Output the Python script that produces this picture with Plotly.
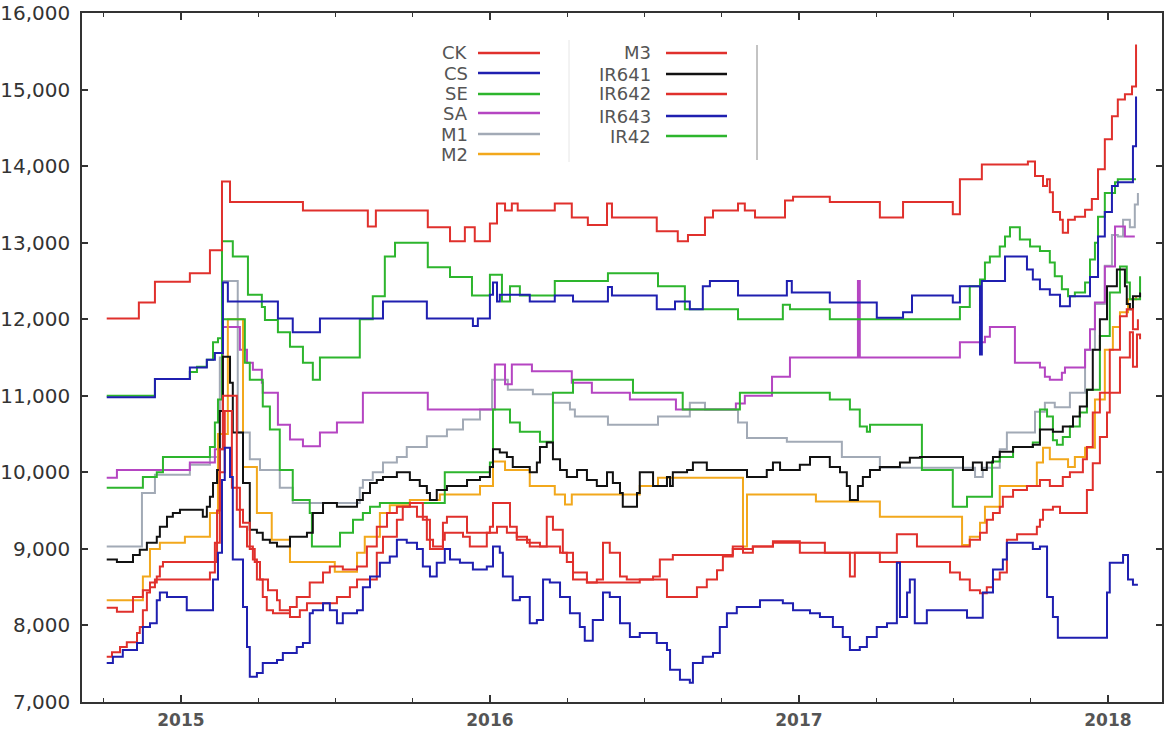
import plotly.graph_objects as go

# ---------------- data (decimal year, value) ----------------
CK = [(2014.760,12010),(2014.864,12220),(2014.916,12490),(2015.029,12600),(2015.094,12900),(2015.133,13800),
      (2015.159,13530),(2015.395,13420),(2015.605,13210),(2015.631,13420),(2015.799,13200),(2015.871,13020),
      (2015.919,13200),(2015.951,13020),(2016.000,13250),(2016.023,13510),(2016.049,13420),(2016.071,13510),
      (2016.090,13420),(2016.210,13510),(2016.265,13330),(2016.317,13230),(2016.379,13510),(2016.395,13330),
      (2016.540,13150),(2016.608,13020),(2016.641,13100),(2016.696,13330),(2016.722,13420),(2016.803,13510),
      (2016.825,13420),(2016.858,13330),(2016.955,13550),(2016.981,13600),(2017.100,13530),(2017.262,13330),
      (2017.337,13530),(2017.498,13370),(2017.521,13830),(2017.592,14020),(2017.741,14060),(2017.764,13870),
      (2017.790,13740),(2017.803,13830),(2017.812,13660),(2017.822,13400),(2017.845,13300),(2017.854,13130),
      (2017.871,13300),(2017.893,13340),(2017.926,13430),(2017.948,13570),(2017.968,13960),(2017.990,14350),
      (2018.013,14650),(2018.032,14870),(2018.055,14940),(2018.078,15040),(2018.091,15590)]

CS = [(2014.760,10980),(2014.916,11220),(2015.029,11370),(2015.084,11470),(2015.110,11560),(2015.136,12480),
      (2015.152,12230),(2015.314,12010),(2015.362,11830),(2015.450,12010),(2015.654,12230),(2015.796,12010),
      (2015.945,11910),(2015.961,12010),(2016.000,12320),(2016.010,12480),(2016.023,12230),(2016.032,12320),
      (2016.129,12230),(2016.210,12310),(2016.269,12230),(2016.382,12420),(2016.395,12310),(2016.540,12130),
      (2016.599,12230),(2016.647,12130),(2016.689,12430),(2016.712,12500),(2016.803,12310),(2016.961,12500),
      (2016.977,12350),(2017.100,12220),(2017.252,12020),(2017.337,12090),(2017.366,12310),(2017.498,12220),
      (2017.521,12430),(2017.586,11540),(2017.592,12500),(2017.667,12820),(2017.738,12650),(2017.757,12520),
      (2017.780,12390),(2017.812,12320),(2017.845,12170),(2017.877,12300),(2017.942,12550),(2017.968,13080),
      (2017.990,13400),(2018.013,13740),(2018.032,13790),(2018.081,14260),(2018.091,14910)]

SE = [(2014.760,11000),(2014.916,11220),(2015.029,11310),(2015.052,11380),(2015.084,11470),(2015.104,11700),
      (2015.120,11750),(2015.133,13020),(2015.168,12820),(2015.217,12320),(2015.262,12160),(2015.272,11990),
      (2015.314,11830),(2015.353,11640),(2015.395,11430),(2015.427,11210),(2015.450,11500),(2015.579,12000),
      (2015.621,12300),(2015.660,12820),(2015.693,13000),(2015.799,12680),(2015.871,12550),(2015.942,12310),
      (2016.000,12580),(2016.039,12230),(2016.065,12430),(2016.097,12310),(2016.210,12500),(2016.382,12600),
      (2016.544,12430),(2016.631,12130),(2016.803,12000),(2016.948,12190),(2016.971,12130),(2017.100,12000),
      (2017.521,12160),(2017.553,12430),(2017.586,12520),(2017.602,12740),(2017.618,12820),(2017.650,12950),
      (2017.667,13080),(2017.683,13200),(2017.715,13040),(2017.748,12950),(2017.780,12890),(2017.812,12740),
      (2017.828,12560),(2017.851,12390),(2017.871,12300),(2017.893,12350),(2017.926,12480),(2017.942,12780),
      (2017.958,13000),(2017.968,13340),(2017.990,13650),(2018.023,13790),(2018.032,13830),(2018.091,13830)]

SA = [(2014.760,9930),(2014.793,10030),(2014.877,10030),(2015.029,10130),(2015.110,10300),(2015.136,11900),
      (2015.191,11600),(2015.214,11430),(2015.233,11340),(2015.262,11170),(2015.265,11040),(2015.314,10620),
      (2015.353,10430),(2015.395,10340),(2015.450,10520),(2015.505,10650),(2015.589,11040),(2015.799,10820),
      (2016.016,11410),(2016.049,11150),(2016.071,11410),(2016.136,11320),(2016.265,11170),(2016.330,11040),
      (2016.453,10950),(2016.602,10820),(2016.796,10900),(2016.825,11000),(2016.913,11250),(2016.971,11500),
      (2017.191,12500),(2017.197,11500),(2017.521,11700),(2017.602,11770),(2017.618,11900),(2017.699,11430),
      (2017.780,11370),(2017.796,11250),(2017.812,11210),(2017.851,11300),(2017.861,11370),(2017.926,11600),
      (2017.942,11870),(2017.958,12220),(2017.990,12690),(2018.023,13210),(2018.055,13080),(2018.087,13080)]

M1 = [(2014.760,9030),(2014.874,9730),(2014.916,9970),(2015.029,10100),(2015.094,10200),(2015.126,11500),
      (2015.136,12500),(2015.184,10520),(2015.223,10170),(2015.256,10030),(2015.320,9800),(2015.362,9600),
      (2015.579,9800),(2015.589,9900),(2015.621,10000),(2015.654,10130),(2015.699,10200),(2015.731,10330),
      (2015.796,10470),(2015.861,10560),(2015.913,10690),(2015.968,10820),(2016.007,11210),(2016.058,11080),
      (2016.139,11020),(2016.204,10910),(2016.259,10820),(2016.275,10730),(2016.382,10620),(2016.544,10730),
      (2016.647,10910),(2016.696,10820),(2016.803,10650),(2016.832,10450),(2016.961,10400),(2017.139,10200),
      (2017.262,10060),(2017.570,9940),(2017.595,10060),(2017.650,10300),(2017.673,10520),(2017.764,10790),
      (2017.796,10910),(2017.828,10850),(2017.877,11040),(2017.926,11600),(2017.958,12200),(2017.990,12700),
      (2018.013,13100),(2018.032,13080),(2018.049,13300),(2018.071,13200),(2018.087,13500),(2018.097,13650)]

M2 = [(2014.760,8330),(2014.877,8640),(2014.900,9000),(2014.932,9080),(2015.013,9160),(2015.094,9470),
      (2015.120,10500),(2015.152,12000),(2015.201,10070),(2015.246,9470),(2015.294,9120),(2015.353,8830),
      (2015.498,8700),(2015.570,8950),(2015.595,9160),(2015.644,9470),(2015.676,9570),(2015.741,9640),
      (2015.838,9710),(2015.968,9820),(2016.010,10140),(2016.049,10030),(2016.129,9820),(2016.210,9710),
      (2016.243,9580),(2016.265,9710),(2016.485,9820),(2016.544,9930),(2016.819,9030),(2016.832,9710),
      (2017.055,9620),(2017.262,9420),(2017.528,9050),(2017.553,9160),(2017.586,9340),(2017.602,9550),
      (2017.650,9820),(2017.770,10130),(2017.790,10320),(2017.812,10170),(2017.871,10070),(2017.893,10200),
      (2017.926,10320),(2017.958,10950),(2017.990,11600),(2018.016,11900),(2018.039,12090),(2018.065,12260),
      (2018.091,12300)]

M3 = [(2014.760,8230),(2014.793,8180),(2014.845,8370),(2014.877,8460),(2014.900,8560),(2014.922,8640),
      (2014.932,8770),(2014.942,8830),(2015.117,9500),(2015.126,10300),(2015.136,11000),(2015.181,9510),
      (2015.201,9340),(2015.223,9000),(2015.239,8830),(2015.256,8600),(2015.282,8460),(2015.311,8330),
      (2015.320,8200),(2015.353,8110),(2015.385,8200),(2015.408,8290),(2015.505,8370),(2015.547,8500),
      (2015.570,8600),(2015.634,8950),(2015.654,9160),(2015.699,9380),(2015.718,9550),(2015.764,9420),
      (2015.796,9120),(2015.816,9030),(2015.848,9340),(2015.861,9420),(2015.926,9210),(2016.000,9290),
      (2016.010,9600),(2016.065,9290),(2016.087,9160),(2016.120,9080),(2016.162,9030),(2016.184,9420),
      (2016.204,9250),(2016.236,8950),(2016.269,8690),(2016.314,8560),(2016.346,8600),(2016.366,9080),
      (2016.388,8950),(2016.421,8640),(2016.443,8600),(2016.573,8370),(2016.670,8500),(2016.702,8600),
      (2016.735,8720),(2016.754,8900),(2016.786,9000),(2016.851,9030),(2016.916,9080),(2017.084,8950),
      (2017.165,8640),(2017.181,8950),(2017.317,9190),(2017.382,9030),(2017.553,9120),(2017.586,9210),
      (2017.608,9380),(2017.628,9470),(2017.650,9550),(2017.660,9680),(2017.693,9770),(2017.738,9820),
      (2017.780,9900),(2017.812,9820),(2017.854,9940),(2017.877,10000),(2017.919,10170),(2017.932,10330),
      (2017.951,10780),(2017.974,11040),(2018.006,11600),(2018.039,12040),(2018.061,12130),(2018.081,11870),
      (2018.097,12000)]

IR641 = [(2014.760,8860),(2014.793,8830),(2014.845,8920),(2014.867,8990),(2014.890,9080),(2014.922,9160),
         (2014.932,9290),(2014.955,9420),(2014.974,9470),(2014.997,9510),(2015.071,9420),(2015.084,9550),
         (2015.094,9680),(2015.104,9860),(2015.117,10030),(2015.126,10800),(2015.136,11510),(2015.159,11170),
         (2015.168,10520),(2015.201,9860),(2015.223,9250),(2015.246,9210),(2015.265,9120),(2015.288,9080),
         (2015.311,9030),(2015.353,9160),(2015.408,9210),(2015.427,9470),(2015.460,9600),(2015.505,9550),
         (2015.570,9640),(2015.589,9730),(2015.612,9860),(2015.634,9900),(2015.654,9940),(2015.699,10000),
         (2015.741,9900),(2015.773,9820),(2015.796,9730),(2015.806,9640),(2015.828,9770),(2015.861,9820),
         (2015.926,9900),(2015.968,9940),(2016.000,10070),(2016.010,10300),(2016.032,10260),(2016.055,10200),
         (2016.074,10070),(2016.129,10000),(2016.152,10130),(2016.162,10330),(2016.184,10390),(2016.204,10170),
         (2016.227,10030),(2016.249,9940),(2016.282,10030),(2016.314,9900),(2016.346,9820),(2016.379,10000),
         (2016.398,9860),(2016.421,9730),(2016.430,9550),(2016.476,9730),(2016.485,10000),(2016.528,9820),
         (2016.573,9940),(2016.583,9820),(2016.592,10000),(2016.638,10030),(2016.657,10130),(2016.702,10030),
         (2016.832,9940),(2016.896,10030),(2016.916,10130),(2016.939,10030),(2017.003,10100),(2017.036,10200),
         (2017.100,10070),(2017.133,10000),(2017.155,9820),(2017.165,9640),(2017.191,9820),(2017.207,9940),
         (2017.230,10030),(2017.262,10070),(2017.327,10130),(2017.359,10190),(2017.392,10200),(2017.531,10030),
         (2017.563,10130),(2017.592,10030),(2017.608,10130),(2017.628,10200),(2017.650,10270),(2017.693,10330),
         (2017.757,10360),(2017.780,10560),(2017.822,10530),(2017.854,10600),(2017.887,10730),(2017.909,10860),
         (2017.932,11080),(2017.951,11600),(2017.974,12000),(2017.997,12430),(2018.029,12650),(2018.055,12430),
         (2018.061,12200),(2018.071,12130),(2018.081,12300),(2018.104,12350)]

IR642 = [(2014.760,7590),(2014.777,7650),(2014.803,7720),(2014.825,7780),(2014.858,7900),(2014.867,7980),
         (2014.877,8200),(2014.890,8430),(2014.900,8500),(2014.916,8600),(2015.094,8690),(2015.110,9080),
         (2015.126,10000),(2015.142,10800),(2015.165,9800),(2015.191,9290),(2015.214,9030),(2015.233,8860),
         (2015.246,8600),(2015.265,8370),(2015.278,8200),(2015.298,8160),(2015.353,8240),(2015.375,8370),
         (2015.417,8560),(2015.460,8690),(2015.482,8770),(2015.524,8730),(2015.570,8770),(2015.602,9030),
         (2015.634,9290),(2015.667,9470),(2015.699,9550),(2015.741,9600),(2015.783,9380),(2015.806,9000),
         (2015.848,9120),(2015.854,9210),(2015.913,9160),(2015.935,9030),(2015.990,9210),(2016.023,9290),
         (2016.055,9210),(2016.087,9120),(2016.129,9030),(2016.227,8950),(2016.249,8830),(2016.269,8600),
         (2016.314,8560),(2016.485,8600),(2016.528,8640),(2016.550,8860),(2016.592,8920),(2016.786,9030),
         (2016.819,8950),(2016.851,9030),(2016.916,9100),(2017.003,8950),(2017.262,8830),(2017.489,8690),
         (2017.521,8600),(2017.553,8460),(2017.586,8420),(2017.608,8500),(2017.628,8600),(2017.650,8690),
         (2017.673,9120),(2017.706,9190),(2017.770,9290),(2017.780,9380),(2017.790,9510),(2017.822,9550),
         (2017.845,9470),(2017.926,9470),(2017.932,9770),(2017.951,10120),(2017.974,10460),(2017.997,10780),
         (2018.006,11040),(2018.039,11500),(2018.071,11830),(2018.081,11380),(2018.094,11800),(2018.104,11740)]

IR643 = [(2014.760,7510),(2014.780,7590),(2014.812,7680),(2014.858,7770),(2014.877,7980),(2014.900,8030),
         (2014.922,8330),(2014.932,8430),(2014.955,8370),(2015.019,8200),(2015.104,8600),(2015.120,8950),
         (2015.133,9900),(2015.142,10320),(2015.159,9940),(2015.168,8860),(2015.201,8240),(2015.214,7720),
         (2015.223,7330),(2015.246,7380),(2015.265,7510),(2015.311,7550),(2015.330,7640),(2015.375,7720),
         (2015.395,7770),(2015.417,8160),(2015.427,8200),(2015.460,8290),(2015.482,8200),(2015.505,8030),
         (2015.524,8160),(2015.570,8200),(2015.589,8500),(2015.612,8640),(2015.644,8820),(2015.676,8900),
         (2015.699,9120),(2015.731,9080),(2015.764,9000),(2015.783,8770),(2015.806,8640),(2015.828,8820),
         (2015.854,9000),(2015.871,8860),(2015.903,8820),(2015.945,8730),(2015.990,8770),(2016.010,9030),
         (2016.032,8950),(2016.042,8640),(2016.074,8330),(2016.097,8370),(2016.129,8030),(2016.152,8070),
         (2016.172,8600),(2016.194,8560),(2016.227,8370),(2016.259,8160),(2016.291,7980),(2016.307,7800),
         (2016.333,8070),(2016.366,8430),(2016.388,8370),(2016.421,8030),(2016.453,7850),(2016.485,7900),
         (2016.540,7770),(2016.573,7680),(2016.583,7420),(2016.615,7290),(2016.647,7250),(2016.657,7510),
         (2016.689,7590),(2016.722,7640),(2016.744,7980),(2016.767,8160),(2016.799,8240),(2016.874,8330),
         (2016.948,8290),(2016.981,8200),(2017.036,8160),(2017.068,8110),(2017.110,7980),(2017.142,7850),
         (2017.165,7680),(2017.197,7720),(2017.220,7850),(2017.252,7980),(2017.285,8030),(2017.317,8820),
         (2017.327,8110),(2017.350,8430),(2017.359,8600),(2017.375,8030),(2017.414,8200),(2017.544,8100),
         (2017.595,8430),(2017.628,8730),(2017.660,8860),(2017.673,9080),(2017.757,9000),(2017.780,9030),
         (2017.803,8370),(2017.822,8110),(2017.838,7840),(2017.997,8430),(2018.006,8820),(2018.049,8920),
         (2018.065,8600),(2018.081,8530),(2018.097,8530)]

IR42 = [(2014.760,9800),(2014.877,9940),(2014.922,10000),(2014.942,10200),(2015.094,10330),(2015.110,10650),
        (2015.120,10950),(2015.133,12000),(2015.207,11430),(2015.223,11210),(2015.265,10860),(2015.288,10560),
        (2015.320,10030),(2015.362,9640),(2015.417,9470),(2015.424,9030),(2015.515,9210),(2015.557,9380),
        (2015.589,9470),(2015.612,9550),(2015.644,9600),(2015.854,10000),(2016.000,10130),(2016.010,10820),
        (2016.065,10650),(2016.097,10530),(2016.162,10400),(2016.204,11040),(2016.269,11210),(2016.463,11040),
        (2016.624,10820),(2016.809,11040),(2017.100,10950),(2017.165,10820),(2017.197,10600),(2017.220,10530),
        (2017.230,10620),(2017.398,10030),(2017.498,9550),(2017.544,9680),(2017.625,10140),(2017.650,10200),
        (2017.693,10330),(2017.757,10390),(2017.780,10820),(2017.803,10730),(2017.822,10420),(2017.835,10360),
        (2017.854,10460),(2017.877,10600),(2017.909,10780),(2017.932,11080),(2017.974,11780),(2018.006,12350),
        (2018.039,12690),(2018.061,12480),(2018.071,12260),(2018.104,12560)]

NAMES_LEFT = ["CK", "CS", "SE", "SA", "M1", "M2"]
NAMES_RIGHT = ["M3", "IR641", "IR642", "IR643", "IR42"]
Y_TICKS = [7000, 8000, 9000, 10000, 11000, 12000, 13000, 14000, 15000, 16000]
X_TICKS = [2015, 2016, 2017, 2018]
X_TICK_LABELS = ["2015", "2016", "2017", "2018"]

# ---------------- styling ----------------
RED = "#e0302c"
BLUE = "#1f1fb0"
GREEN = "#2db52d"
PURPLE = "#b545c2"
GRAY = "#a2aab6"
ORANGE = "#f2a81c"
BLACK = "#111111"

series = {
    "CK": (CK, RED), "CS": (CS, BLUE), "SE": (SE, GREEN), "SA": (SA, PURPLE),
    "M1": (M1, GRAY), "M2": (M2, ORANGE), "M3": (M3, RED), "IR641": (IR641, BLACK),
    "IR642": (IR642, RED), "IR643": (IR643, BLUE), "IR42": (IR42, GREEN),
}
draw_order = ["M1", "SA", "M2", "IR42", "IR641", "M3", "IR642", "IR643", "SE", "CS", "CK"]

fig = go.Figure()
for name in draw_order:
    pts, col = series[name]
    fig.add_trace(go.Scatter(
        x=[p[0] for p in pts], y=[p[1] for p in pts], name=name,
        mode="lines", line=dict(color=col, width=2, shape="hv"), showlegend=False))

W, H = 1164, 731
L, R, T, B = 82, 2, 13, 29
PW, PH = W - L - R, H - T - B

def px(xp):
    return (xp - L) / PW

def py(yp):
    return (H - B - yp) / PH

shapes = []
annotations = []
left_rows = [53, 73, 94, 113, 134, 154]
right_rows = [53, 74, 94, 116, 136]
LEG_FONT = dict(family="DejaVu Sans", size=18, color="#555555")
for name, yrow in zip(NAMES_LEFT, left_rows):
    col = series[name][1]
    annotations.append(dict(x=px(470), y=py(yrow), xref="paper", yref="paper", text=name,
                            showarrow=False, xanchor="right", yanchor="middle", font=LEG_FONT))
    shapes.append(dict(type="line", xref="paper", yref="paper", x0=px(478), x1=px(540),
                       y0=py(yrow), y1=py(yrow), line=dict(color=col, width=2.5)))
for name, yrow in zip(NAMES_RIGHT, right_rows):
    col = series[name][1]
    annotations.append(dict(x=px(653), y=py(yrow), xref="paper", yref="paper", text=name,
                            showarrow=False, xanchor="right", yanchor="middle", font=LEG_FONT))
    shapes.append(dict(type="line", xref="paper", yref="paper", x0=px(666), x1=px(727),
                       y0=py(yrow), y1=py(yrow), line=dict(color=col, width=2.5)))
shapes.append(dict(type="line", xref="paper", yref="paper", x0=px(757), x1=px(757),
                   y0=py(45), y1=py(160), line=dict(color="#888888", width=1)))
shapes.append(dict(type="line", xref="paper", yref="paper", x0=px(569), x1=px(569),
                   y0=py(40), y1=py(162), line=dict(color="#e6e6e6", width=1)))

fig.update_layout(
    width=W, height=H, margin=dict(l=L, r=R, t=T, b=B, autoexpand=False),
    paper_bgcolor="white", plot_bgcolor="white",
    shapes=shapes, annotations=annotations, showlegend=False,
    xaxis=dict(range=[2014.68, 2018.175], tickvals=X_TICKS, ticktext=X_TICK_LABELS,
               automargin=False,
               ticks="inside", ticklen=7, tickwidth=1.5, tickcolor="#333",
               minor=dict(tick0=2015, dtick=0.25, ticks="inside", ticklen=4, tickcolor="#333", tickwidth=1),
               showline=True, linecolor="#333", linewidth=1.5, mirror="ticks",
               showgrid=False, zeroline=False, ticklabelstandoff=2,
               tickfont=dict(family="DejaVu Sans", size=17, color="#555555", weight="bold")),
    yaxis=dict(range=[7000, 16000], tickvals=Y_TICKS, tickformat=",d",
               automargin=False,
               ticks="inside", ticklen=6, tickwidth=1.5, tickcolor="#333",
               showline=True, linecolor="#333", linewidth=1.5, mirror="ticks",
               showgrid=False, zeroline=False, ticklabelstandoff=6,
               tickfont=dict(family="DejaVu Sans", size=20, color="#333333")),
)

fig.write_html("out.html", config={"displayModeBar": False},
               post_script="document.body.style.margin='0';document.body.style.padding='0';")
